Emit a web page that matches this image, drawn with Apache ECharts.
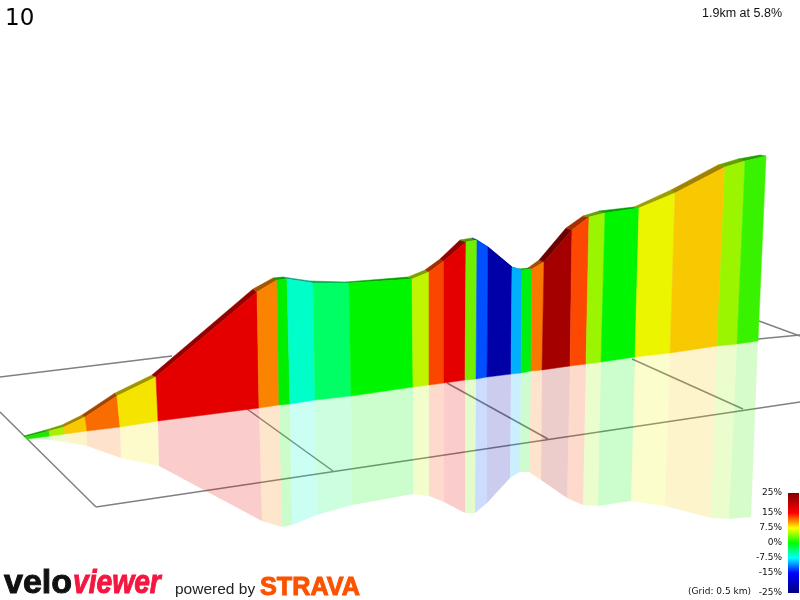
<!DOCTYPE html>
<html><head><meta charset="utf-8">
<style>html,body{margin:0;padding:0;background:#fff}#c{width:800px;height:600px}</style>
<script src="https://cdn.jsdelivr.net/npm/echarts@6/dist/echarts.min.js"></script>
</head><body><div id="c"></div>
<script>
// Wall profile: one entry per gradient-band boundary
const topX  = [25,49,64,85,117,156,257,277,287,313,349,412,429,444,466,477,488,512,522,532,544,572,589,605,639,675,725,745,766];
const topY  = [437,431,427,417,396,377,292,280,279,283,283,279,272,261,242,240,247,267,270,269,262,230,217,213,208,193,167,161,156];
const ridgeX= [24,46,62,82,115,152,253,273,283,310,346,408,425,440,460,472,484,509,519,528,539,566,583,599,634,671,718,738,760];
const ridgeY= [436,430,425,415,393,375,289,278,277,281,282,277,270,259,240,238,246,267,269,268,260,228,216,211,207,190,165,159,155];
const baseX = [27,50,65,87,120,158,259,279,290,315,351,413,429,444,465,476,487,511,521,531,542,570,586,601,635,670,717,737,758];
const baseY = [439,436,434,431,427,421,408,405,404,400,396,387,385,383,380,379,377,374,373,371,370,366,364,362,357,353,346,344,341];
const mirrorX=[26,50,65,87,121,159,262,282,292,317,352,413,429,444,465,475,487,510,520,529,541,567,583,598,631,665,711,729,751];
const mirrorY=[439,440,442,446,458,466,521,527,525,515,505,494,496,502,513,513,503,478,472,472,480,498,505,506,501,506,518,519,517];
const bandColors=['#1ee600','#aaf000','#f8c800','#f86c00','#f5e400','#e50000','#fa8400','#00ee00','#00ffc8','#00ff64','#00f500','#c0f500','#fa4600','#e40000','#70f000','#0050ff','#0000a8','#00b0ff','#00f010','#fb7800','#a50000','#fc4800','#9cf500','#00f500','#ecf500','#f8c800','#9cf500','#38f200'];
// Ground grid segments [x1,y1,x2,y2]
const gridLines=[[0,412,96,507],[96,507,800,402],[0,377,172,356],[247,409,333,471],[447,383,548,439],[632,359,743,409],[758,339,800,335],[759,321,800,336]];
// Gradient scale
const gradeTicks=[25,15,7.5,0,-7.5,-15,-25];
const gradeColors=['#800000','#ff0000','#ffff00','#00ff00','#00ffff','#0000ff','#000080'];
const titleText='10', summaryText='1.9km at 5.8%', gridNote='(Grid: 0.5 km)';

const bands=bandColors.map((c,i)=>i);
function shade(hex,f){const n=parseInt(hex.slice(1),16);return 'rgb('+[(n>>16)&255,(n>>8)&255,n&255].map(v=>Math.round(v*f)).join(',')+')';}
function poly(api,pts,style){return {type:'polygon',shape:{points:pts.map(p=>api.coord(p))},style};}
const chart=echarts.init(document.getElementById('c'),null,{renderer:'canvas'});
chart.setOption({
  animation:false,backgroundColor:'#fff',
  grid:[{left:0,top:0,width:800,height:600},{left:788,top:493,width:11,height:100}],
  xAxis:[{type:'value',min:0,max:800,show:false},{type:'value',min:0,max:1,gridIndex:1,show:false}],
  yAxis:[{type:'value',min:0,max:600,inverse:true,show:false},
    {type:'value',gridIndex:1,min:-25,max:25,splitLine:{show:false},axisLine:{show:false},axisTick:{show:false},
     axisLabel:{customValues:gradeTicks,margin:6,fontFamily:'DejaVu Sans',fontSize:9,color:'#111',formatter:v=>v+'%'}}],
  graphic:[
    {type:'text',left:5,top:8,style:{text:titleText,font:'23px "DejaVu Sans"',fill:'#000'}},
    {type:'text',right:18,top:7,style:{text:summaryText,font:'12.5px "Liberation Sans"',fill:'#111'}},
    {type:'text',x:688,y:587,style:{text:gridNote,font:'9px "DejaVu Sans"',fill:'#111'}},
    {type:'text',x:4,y:567,style:{text:'velo',font:'bold 34px "Liberation Sans"',fill:'#111',stroke:'#111',lineWidth:1}},
    {type:'text',x:73,y:567,scaleX:0.83,style:{text:'viewer',font:'italic bold 34px "Liberation Sans"',fill:'#f5163f',stroke:'#f5163f',lineWidth:1}},
    {type:'text',x:175,y:582,style:{text:'powered by',font:'15.5px "Liberation Sans"',fill:'#222'}},
    {type:'text',x:260,y:575,scaleX:0.97,style:{text:'STRAVA',font:'bold 26px "Liberation Sans"',fill:'#fc5200',stroke:'#fc5200',lineWidth:1}}
  ],
  series:[
    {type:'custom',name:'grid',coordinateSystem:'cartesian2d',data:gridLines,silent:true,z:1,clip:false,
     renderItem:(p,api)=>{const a=api.coord([api.value(0),api.value(1)]),b=api.coord([api.value(2),api.value(3)]);
       return {type:'line',shape:{x1:a[0],y1:a[1],x2:b[0],y2:b[1]},style:{stroke:'#808080',lineWidth:1.5}};}},
    {type:'custom',name:'reflection',coordinateSystem:'cartesian2d',data:bands,silent:true,z:2,
     renderItem:(p,api)=>{const i=api.value(0);
       return poly(api,[[baseX[i],baseY[i]],[baseX[i+1],baseY[i+1]],[mirrorX[i+1],mirrorY[i+1]],[mirrorX[i],mirrorY[i]]],{fill:bandColors[i],opacity:0.2});}},
    {type:'custom',name:'ridge',coordinateSystem:'cartesian2d',data:bands,silent:true,z:3,
     renderItem:(p,api)=>{const i=api.value(0),c=shade(bandColors[i],0.65);
       return poly(api,[[ridgeX[i],ridgeY[i]],[ridgeX[i+1],ridgeY[i+1]],[topX[i+1],topY[i+1]],[topX[i],topY[i]]],{fill:c,stroke:c,lineWidth:0.5});}},
    {type:'custom',name:'wall',coordinateSystem:'cartesian2d',data:bands,silent:true,z:4,
     renderItem:(p,api)=>{const i=api.value(0);
       return poly(api,[[topX[i],topY[i]],[topX[i+1],topY[i+1]],[baseX[i+1],baseY[i+1]],[baseX[i],baseY[i]]],{fill:bandColors[i],stroke:bandColors[i],lineWidth:0.5});}},
    {type:'custom',name:'scale',coordinateSystem:'cartesian2d',xAxisIndex:1,yAxisIndex:1,data:[[0,25]],silent:true,z:5,
     renderItem:(p,api)=>{const a=api.coord([0,25]),b=api.coord([1,-25]);
       return {type:'rect',shape:{x:a[0],y:a[1],width:b[0]-a[0],height:b[1]-a[1]},
        style:{fill:new echarts.graphic.LinearGradient(0,0,0,1,gradeTicks.map((t,k)=>({offset:(25-t)/50,color:gradeColors[k]})))}};}}
  ]
});
</script></body></html>
